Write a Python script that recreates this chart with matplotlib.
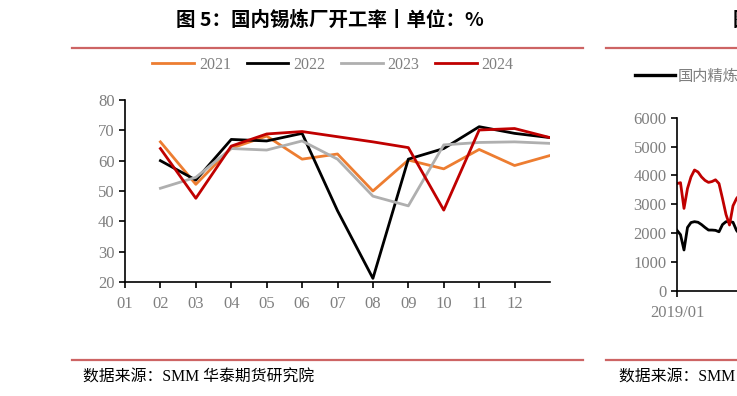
import numpy as np
import matplotlib
matplotlib.use("Agg")
import matplotlib.pyplot as plt
from matplotlib.lines import Line2D

plt.rcParams['font.family'] = ['Liberation Serif', 'Noto Sans CJK SC']

# 左图：国内锡炼厂开工率
months = ['01', '02', '03', '04', '05', '06', '07', '08', '09', '10', '11', '12']
x_pos = list(range(2, 14))
y2021 = [66.2, 52.2, 64.1, 68.1, 60.5, 62.2, 50.0, 60.2, 57.3, 63.7, 58.4, 61.7]
y2022 = [60.0, 53.6, 67.0, 66.5, 69.0, 43.5, 21.2, 60.5, 64.0, 71.2, 69.0, 67.6]
y2023 = [50.9, 54.5, 64.0, 63.5, 66.5, 60.5, 48.3, 45.1, 65.2, 66.0, 66.2, 65.7]
y2024 = [64.0, 47.6, 64.8, 68.8, 69.6, 67.9, 66.2, 64.3, 43.7, 70.1, 70.6, 67.6]
series = [('2021', y2021, '#ED7D31'), ('2022', y2022, '#000000'),
          ('2023', y2023, '#AFAFAF'), ('2024', y2024, '#C00000')]

# 右图（被截断）：国内精炼锡产量，月度
refined = [2100, 1950, 1420, 2200, 2370, 2400, 2380, 2300, 2200, 2110, 2110, 2100,
           2050, 2300, 2400, 2400, 2380, 2100, 1950, 2000, 2100]
other = [3720, 3750, 2860, 3550, 3950, 4190, 4120, 3950, 3830, 3760, 3790, 3850,
         3720, 3200, 2650, 2285, 2950, 3200, 3350, 3400, 3450]

W, H = 737, 396
fig = plt.figure(figsize=(W / 100, H / 100), dpi=100)
gray = '#7F7F7F'
rule = '#CD6464'

def fx(px):
    return px / W

def fy(py):
    return 1 - py / H

# 标题与分隔线
fig.text(fx(330), fy(20), '图 5：国内锡炼厂开工率丨单位：%', ha='center', va='center',
         fontsize=14, fontweight='bold', family=['Noto Sans CJK SC'])
fig.text(fx(733), fy(20), '图 6：国内精炼锡产量', ha='left', va='center',
         fontsize=14, fontweight='bold', family=['Noto Sans CJK SC'])
for x0, x1 in [(72, 583), (606, 760)]:
    fig.add_artist(Line2D([fx(x0), fx(x1)], [fy(48), fy(48)], color=rule, lw=1.6))
    fig.add_artist(Line2D([fx(x0), fx(x1)], [fy(360), fy(360)], color=rule, lw=1.6))
fig.text(fx(83), fy(378), '数据来源：SMM 华泰期货研究院', ha='left', va='center', fontsize=11.4)
fig.text(fx(619), fy(378), '数据来源：SMM 华泰期货研究院', ha='left', va='center', fontsize=11.4)

def style(ax):
    for s in ['top', 'right']:
        ax.spines[s].set_visible(False)
    for s in ['left', 'bottom']:
        ax.spines[s].set_linewidth(1.2)
        ax.spines[s].set_color('black')
    ax.tick_params(axis='both', direction='out', length=4, width=1.2, color='black',
                   labelcolor=gray, labelsize=12)
    ax.tick_params(axis='x', pad=6)

# 左图
ax = fig.add_axes([fx(125), 1 - 282 / H, 425 / W, 182 / H])
for name, vals, c in series:
    ax.plot(x_pos, vals, color=c, lw=2.0, label=name)
ax.set_xlim(1, 13)
ax.set_ylim(20, 80)
ax.set_xticks(range(1, 13))
ax.set_xticklabels(months)
ax.set_yticks(range(20, 81, 10))
style(ax)
fig.legend(loc='center', bbox_to_anchor=(fx(333), fy(65)), ncol=4, frameon=False,
           fontsize=11.5, labelcolor=gray, handlelength=2.6, handletextpad=0.3,
           columnspacing=1.0, borderpad=0)

# 右图（超出画布部分被裁掉）
ax2 = fig.add_axes([fx(677), 1 - 291 / H, 430 / W, 173.3 / H])
t = np.arange(len(refined))
ax2.plot(t, refined, color='black', lw=2.0, label='国内精炼锡产量')
ax2.plot(t, other, color='#C00000', lw=2.0)
ax2.set_xlim(0, 430 / 3.5)
ax2.set_ylim(0, 6000)
ax2.set_yticks(range(0, 6001, 1000))
ax2.set_xticks([0])
ax2.set_xticklabels(['2019/01'])
style(ax2)
h = [Line2D([], [], color='black', lw=2.4)]
fig.legend(h, ['国内精炼锡产量'], loc='center left', bbox_to_anchor=(fx(635), fy(76)),
           frameon=False, labelcolor=gray, handlelength=2.6,
           handletextpad=0.2, borderpad=0, borderaxespad=0,
           prop={'family': ['Noto Sans CJK SC'], 'size': 11})

fig.savefig('out.png', dpi=100)
